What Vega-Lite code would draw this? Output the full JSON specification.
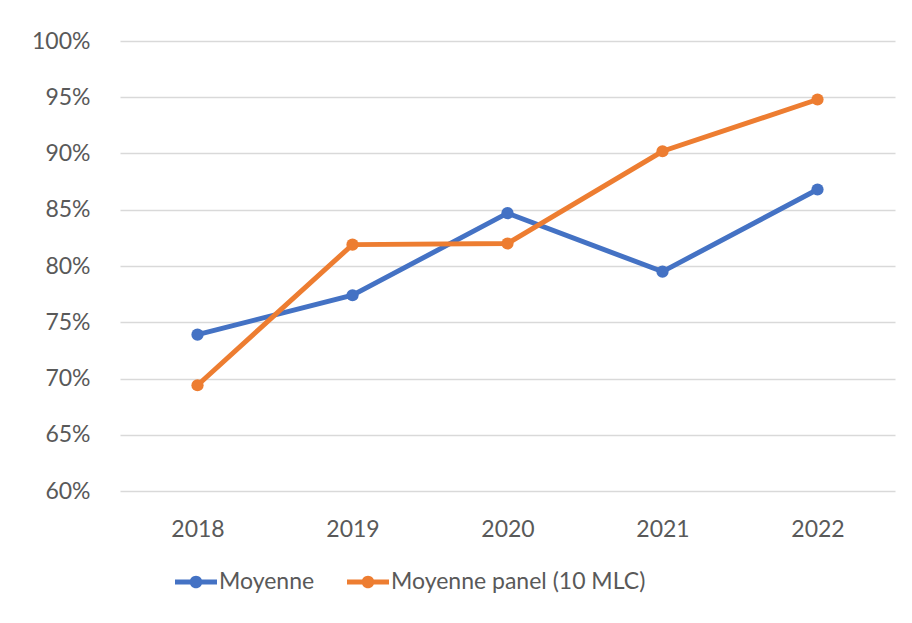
{
  "$schema": "https://vega.github.io/schema/vega-lite/v6.json",
  "width": 775,
  "height": 450,
  "autosize": {"type": "none"},
  "padding": {"left": 120, "top": 41, "right": 17, "bottom": 132},
  "background": "white",
  "config": {
    "view": {"stroke": null},
    "font": "Lato",
    "axis": {"labelFont": "Lato", "labelColor": "#595959", "labelFontSize": 23}
  },
  "data": {
    "values": [
      {"annee": "2018", "serie": "Moyenne", "valeur": 0.739},
      {"annee": "2019", "serie": "Moyenne", "valeur": 0.774},
      {"annee": "2020", "serie": "Moyenne", "valeur": 0.847},
      {"annee": "2021", "serie": "Moyenne", "valeur": 0.795},
      {"annee": "2022", "serie": "Moyenne", "valeur": 0.868},
      {"annee": "2018", "serie": "Moyenne panel (10 MLC)", "valeur": 0.694},
      {"annee": "2019", "serie": "Moyenne panel (10 MLC)", "valeur": 0.819},
      {"annee": "2020", "serie": "Moyenne panel (10 MLC)", "valeur": 0.820},
      {"annee": "2021", "serie": "Moyenne panel (10 MLC)", "valeur": 0.902},
      {"annee": "2022", "serie": "Moyenne panel (10 MLC)", "valeur": 0.948}
    ]
  },
  "encoding": {
    "x": {
      "field": "annee", "type": "ordinal",
      "scale": {"type": "point", "padding": 0.5},
      "axis": {"title": null, "labelAngle": 0, "domain": false, "ticks": false, "labelPadding": 27, "grid": false}
    },
    "y": {
      "field": "valeur", "type": "quantitative",
      "scale": {"domain": [0.6, 1.0], "nice": false, "zero": false},
      "axis": {"title": null, "format": ".0%", "values": [0.6, 0.65, 0.7, 0.75, 0.8, 0.85, 0.9, 0.95, 1.0],
               "domain": false, "ticks": false, "labelPadding": 30, "gridColor": "#d9d9d9", "gridWidth": 1.5}
    },
    "color": {
      "field": "serie", "type": "nominal",
      "scale": {"domain": ["Moyenne", "Moyenne panel (10 MLC)"], "range": ["#4472C4", "#ED7D31"]},
      "legend": {
        "title": null, "orient": "none", "direction": "horizontal",
        "legendX": 55, "legendY": 520,
        "symbolType": "M -1 -0.12 L 1 -0.12 L 1 0.12 L -1 0.12 Z M 0.3 0 A 0.3 0.3 0 1 1 -0.3 0 A 0.3 0.3 0 1 1 0.3 0 Z",
        "symbolSize": 1764,
        "symbolStrokeWidth": 0,
        "labelFont": "Lato", "labelFontSize": 23, "labelColor": "#595959", "labelLimit": 400,
        "labelOffset": 2, "columnPadding": 32,
        "encode": {"symbols": {"update": {"fill": {"scale": "color", "field": "value"}, "strokeWidth": {"value": 0}, "opacity": {"value": 1}}}}
      }
    }
  },
  "layer": [
    {"mark": {"type": "line", "strokeWidth": 5}},
    {"mark": {"type": "point", "filled": true, "size": 150, "opacity": 1}}
  ]
}
